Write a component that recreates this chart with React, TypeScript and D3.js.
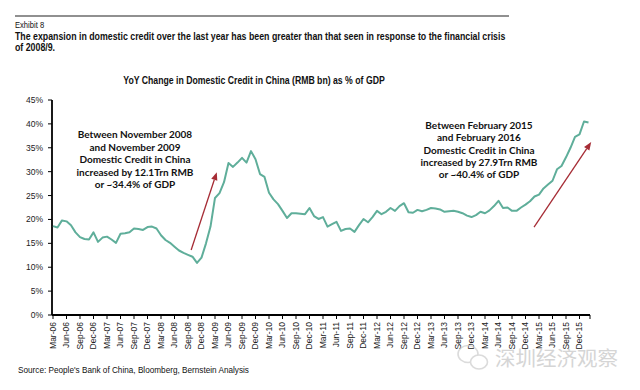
import React from "react";
import * as d3 from "d3";

const values: number[] = [
  18.6, 18.3, 19.8, 19.6, 18.8, 17.3, 16.3, 15.9, 15.8, 17.3, 15.3, 16.2,
  16.4, 15.8, 15.1, 17.0, 17.1, 17.3, 18.1, 18.0, 17.8, 18.4, 18.5, 18.1,
  16.7, 15.7, 15.1, 14.3, 13.5, 13.0, 12.6, 12.2, 10.9, 12.0, 15.0, 18.5,
  24.5, 25.5, 27.8, 31.8, 31.0, 31.9, 32.9, 31.9, 34.3, 32.6, 29.5, 28.9,
  25.6, 24.2, 23.2, 21.8, 20.3, 21.3, 21.3, 21.2, 21.1, 22.4, 20.7, 20.1,
  20.5, 18.5, 19.0, 19.5, 17.6, 18.0, 18.1, 17.4, 18.8, 20.1, 19.4, 20.5,
  21.8, 21.1, 21.6, 22.4, 21.8, 22.8, 23.4, 21.5, 21.4, 22.0, 21.7, 22.0,
  22.4, 22.3, 22.1, 21.6, 21.7, 21.8, 21.6, 21.3, 20.8, 20.5, 20.9, 21.6,
  21.3, 21.9, 22.8, 23.9, 22.4, 22.5, 21.8, 21.8, 22.5, 23.1, 23.8, 24.8,
  25.2, 26.5, 27.3, 28.1, 30.5, 31.2, 33.0, 35.0, 37.3, 37.8, 40.5, 40.3,
];

const tickLabels: string[] = [
  "Mar-06", "Jun-06", "Sep-06", "Dec-06", "Mar-07", "Jun-07", "Sep-07", "Dec-07",
  "Mar-08", "Jun-08", "Sep-08", "Dec-08", "Mar-09", "Jun-09", "Sep-09", "Dec-09",
  "Mar-10", "Jun-10", "Sep-10", "Dec-10", "Mar-11", "Jun-11", "Sep-11", "Dec-11",
  "Mar-12", "Jun-12", "Sep-12", "Dec-12", "Mar-13", "Jun-13", "Sep-13", "Dec-13",
  "Mar-14", "Jun-14", "Sep-14", "Dec-14", "Mar-15", "Jun-15", "Sep-15", "Dec-15",
];

const yTicks: number[] = [0, 5, 10, 15, 20, 25, 30, 35, 40, 45];

const annotation1: string[] = [
  "Between November 2008",
  "and November 2009",
  "Domestic Credit in China",
  "increased by 12.1Trn RMB",
  "or ~34.4% of GDP",
];
const annotation2: string[] = [
  "Between February 2015",
  "and February 2016",
  "Domestic Credit in China",
  "increased by 27.9Trn RMB",
  "or ~40.4% of GDP",
];
// arrows in data space: [monthIndex, percent]
const arrow1: [number, number][] = [[30.7, 13.6], [36.4, 29.9]];
const arrow2: [number, number][] = [[106.9, 18.4], [119.6, 36.2]];

export default function App() {
  const W = 640, H = 390;
  const x = d3.scaleLinear().domain([0, 119]).range([53, 588.5]);
  const y = d3.scaleLinear().domain([0, 45]).range([315, 100]);
  const line = d3
    .line<number>()
    .x((_, i) => x(i))
    .y((d) => y(d));
  const sans = "'Liberation Sans', Arial, sans-serif";
  const anno = "Lato, 'Open Sans', sans-serif";
  const arrowColor = "#a62c35";
  const lineColor = "#5fae9a";

  const arrowEl = (a: [number, number][], key: string) => {
    const x1 = x(a[0][0]), y1 = y(a[0][1]), x2 = x(a[1][0]), y2 = y(a[1][1]);
    const ang = Math.atan2(y2 - y1, x2 - x1);
    const L = 8, Wd = 3.2;
    const bx = x2 - L * Math.cos(ang), by = y2 - L * Math.sin(ang);
    const px = -Math.sin(ang) * Wd, py = Math.cos(ang) * Wd;
    return (
      <g key={key}>
        <line x1={x1} y1={y1} x2={bx} y2={by} stroke={arrowColor} strokeWidth={1.3} />
        <polygon points={`${x2},${y2} ${bx + px},${by + py} ${bx - px},${by - py}`} fill={arrowColor} />
      </g>
    );
  };

  return (
    <svg width={W} height={H} style={{ position: "absolute", left: 0, top: 0, background: "#fff" }}>
      <rect width={W} height={H} fill="#fff" />
      <line x1={15} x2={509} y1={16} y2={16} stroke="#222" strokeWidth={1.2} />
      <g transform="translate(15,28) scale(0.8,1)">
        <text x={0} y={0} fontFamily={sans} fontSize={9.5} fill="#111">Exhibit 8</text>
      </g>
      <g transform="translate(15,40) scale(0.88,1)">
        <text x={0} y={0} fontFamily={sans} fontSize={10} fontWeight="bold" fill="#111">
          The expansion in domestic credit over the last year has been greater than that seen in response to the financial crisis
        </text>
      </g>
      <g transform="translate(15,51) scale(0.88,1)">
        <text x={0} y={0} fontFamily={sans} fontSize={10} fontWeight="bold" fill="#111">of 2008/9.</text>
      </g>
      <g transform="translate(254,84) scale(0.83,1)">
        <text x={0} y={0} textAnchor="middle" fontFamily={sans} fontSize={10.5} fontWeight="bold" fill="#111">
          YoY Change in Domestic Credit in China (RMB bn) as % of GDP
        </text>
      </g>

      {/* y axis */}
      <line x1={52} x2={52} y1={y(45)} y2={y(0)} stroke="#000" strokeWidth={1.8} />
      {yTicks.map((t) => (
        <g key={t}>
          <line x1={48} x2={52} y1={y(t)} y2={y(t)} stroke="#000" strokeWidth={1} />
          <text x={43} y={y(t)} dy="0.35em" textAnchor="end" fontFamily={sans} fontSize={8.5} fill="#222">{t}%</text>
        </g>
      ))}
      {/* x axis */}
      <line x1={52} x2={590} y1={315} y2={315} stroke="#000" strokeWidth={1.8} />
      {tickLabels.map((lab, k) => {
        const xi = x(k * 3);
        return (
          <g key={lab}>
            <line x1={xi} x2={xi} y1={315} y2={319} stroke="#000" strokeWidth={1} />
            <text transform={`translate(${xi},${322}) rotate(-90)`} dy="0.35em" textAnchor="end" fontFamily={sans} fontSize={8.5} fill="#222">{lab}</text>
          </g>
        );
      })}
      <line x1={590} x2={590} y1={315} y2={319} stroke="#000" strokeWidth={1} />

      <path d={line(values) || ""} fill="none" stroke={lineColor} strokeWidth={2} strokeLinejoin="round" />

      {arrowEl(arrow1, "a1")}
      {arrowEl(arrow2, "a2")}

      {annotation1.map((s, i) => (
        <text key={s} x={135} y={138 + i * 12.5} textAnchor="middle" fontFamily={anno} fontWeight="bold" fontSize={10} fill="#111">{s}</text>
      ))}
      {annotation2.map((s, i) => (
        <text key={s} x={479} y={129 + i * 12.3} textAnchor="middle" fontFamily={anno} fontWeight="bold" fontSize={10} fill="#111">{s}</text>
      ))}

      <text x={18} y={373} fontFamily={sans} fontSize={8.2} fill="#111">
        Source: People's Bank of China, Bloomberg, Bernstein Analysis
      </text>

      {/* watermark */}
      <g opacity={0.75}>
        <ellipse cx={468} cy={354} rx={10} ry={8.5} fill="none" stroke="#cfcfcf" strokeWidth={1.6} />
        <ellipse cx={479} cy={362} rx={8.5} ry={7} fill="#fff" stroke="#cfcfcf" strokeWidth={1.6} />
        <text x={495} y={366} fontFamily="'Noto Sans CJK SC', sans-serif" fontSize={20} fill="#c8c8c8" textLength={123} lengthAdjust="spacingAndGlyphs">深圳经济观察</text>
      </g>
    </svg>
  );
}
